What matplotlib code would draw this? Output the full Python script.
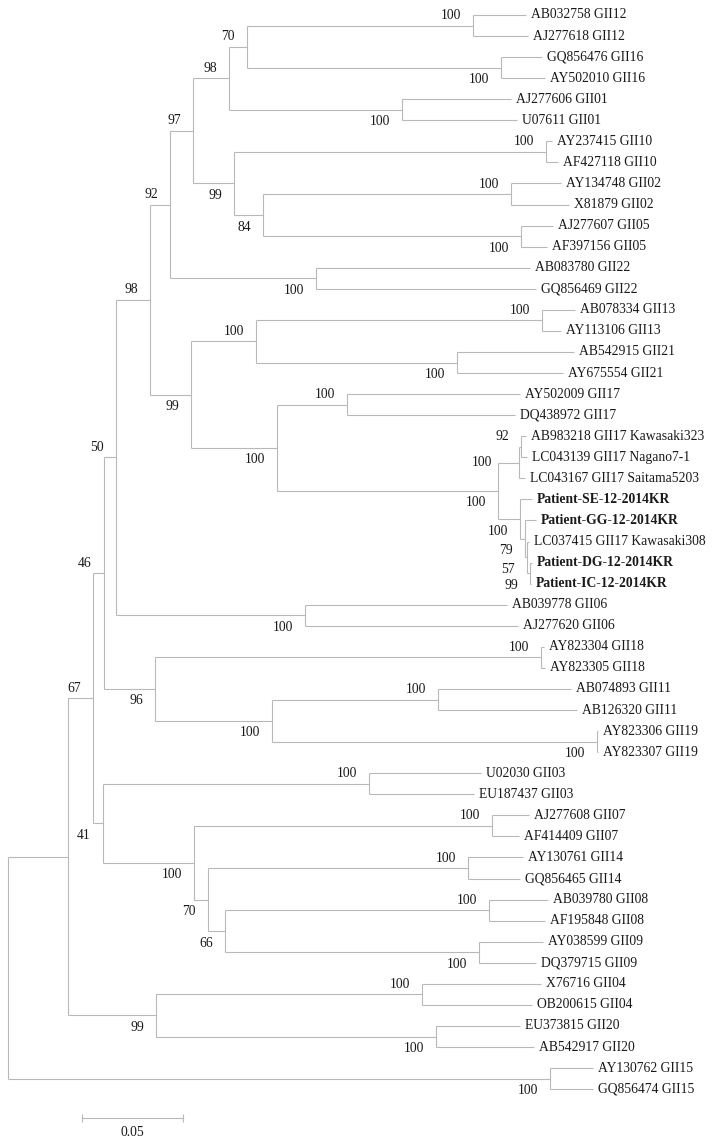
import matplotlib.pyplot as plt

plt.rcParams['font.family'] = ['Liberation Serif', 'DejaVu Serif']

# leaves, top to bottom
leaf_names = [
    'AB032758 GII12', 'AJ277618 GII12', 'GQ856476 GII16', 'AY502010 GII16',
    'AJ277606 GII01', 'U07611 GII01', 'AY237415 GII10', 'AF427118 GII10',
    'AY134748 GII02', 'X81879 GII02', 'AJ277607 GII05', 'AF397156 GII05',
    'AB083780 GII22', 'GQ856469 GII22', 'AB078334 GII13', 'AY113106 GII13',
    'AB542915 GII21', 'AY675554 GII21', 'AY502009 GII17', 'DQ438972 GII17',
    'AB983218 GII17 Kawasaki323', 'LC043139 GII17 Nagano7-1',
    'LC043167 GII17 Saitama5203', 'Patient-SE-12-2014KR', 'Patient-GG-12-2014KR',
    'LC037415 GII17 Kawasaki308', 'Patient-DG-12-2014KR', 'Patient-IC-12-2014KR',
    'AB039778 GII06', 'AJ277620 GII06', 'AY823304 GII18', 'AY823305 GII18',
    'AB074893 GII11', 'AB126320 GII11', 'AY823306 GII19', 'AY823307 GII19',
    'U02030 GII03', 'EU187437 GII03', 'AJ277608 GII07', 'AF414409 GII07',
    'AY130761 GII14', 'GQ856465 GII14', 'AB039780 GII08', 'AF195848 GII08',
    'AY038599 GII09', 'DQ379715 GII09', 'X76716 GII04', 'OB200615 GII04',
    'EU373815 GII20', 'AB542917 GII20', 'AY130762 GII15', 'GQ856474 GII15',
]
# distance from root (substitutions/site)
leaf_depth = [
    0.2564, 0.2574, 0.2644, 0.2658, 0.2490, 0.2520, 0.2693, 0.2723,
    0.2738, 0.2777, 0.2698, 0.2668, 0.2584, 0.2614, 0.2807, 0.2738,
    0.2802, 0.2748, 0.2535, 0.2510, 0.2564, 0.2569, 0.2559, 0.2594,
    0.2614, 0.2579, 0.2594, 0.2589, 0.2470, 0.2525, 0.2653, 0.2658,
    0.2787, 0.2817, 0.2921, 0.2921, 0.2342, 0.2307, 0.2579, 0.2530,
    0.2550, 0.2535, 0.2673, 0.2658, 0.2649, 0.2614, 0.2639, 0.2594,
    0.2535, 0.2604, 0.2896, 0.2896,
]

# internal nodes: children (int = leaf index, str = node id), depth, bootstrap
node_ids = ['c12', 'c16', 'n70', 'c01', 'n98a', 'c10', 'c02', 'c05', 'n84',
            'n99a', 'n97', 'c22', 'n92', 'c13', 'c21', 'n100a', 'c17a',
            'n92b', 'n100b', 'n99c', 'n57', 'n79', 'n100c', 'n100d', 'n100e',
            'n99b', 'n98b', 'c06', 'n50', 'c18', 'c11', 'c19', 'n100f', 'n96',
            'n46', 'c03', 'c07', 'c14', 'c08', 'c09', 'n66', 'n70b', 'n100g',
            'n41', 'n67', 'c04', 'c20', 'n99d', 'nA', 'c15', 'root']
node_kids = [(0, 1), (2, 3), ('c12', 'c16'), (4, 5), ('n70', 'c01'),
             (6, 7), (8, 9), (10, 11), ('c02', 'c05'), ('c10', 'n84'),
             ('n98a', 'n99a'), (12, 13), ('n97', 'c22'), (14, 15), (16, 17),
             ('c13', 'c21'), (18, 19), (20, 21), ('n92b', 22), (26, 27),
             (25, 'n99c'), (24, 'n57'), (23, 'n79'), ('n100b', 'n100c'),
             ('c17a', 'n100d'), ('n100a', 'n100e'), ('n92', 'n99b'), (28, 29),
             ('n98b', 'c06'), (30, 31), (32, 33), (34, 35), ('c11', 'c19'),
             ('c18', 'n100f'), ('n50', 'n96'), (36, 37), (38, 39), (40, 41),
             (42, 43), (44, 45), ('c08', 'c09'), ('c14', 'n66'),
             ('c07', 'n70b'), ('c03', 'n100g'), ('n46', 'n41'), (46, 47),
             (48, 49), ('c04', 'c20'), ('n67', 'n99d'), (50, 51),
             ('nA', 'c15')]
node_depth = [0.2302, 0.2441, 0.1183, 0.1950, 0.1094, 0.2663, 0.2490, 0.2540,
              0.1262, 0.1119, 0.0916, 0.1525, 0.0802, 0.2644, 0.2223, 0.1228,
              0.1678, 0.2542, 0.2532, 0.2584, 0.2569, 0.2559, 0.2535, 0.2426,
              0.1332, 0.0906, 0.0703, 0.1470, 0.0535, 0.2639, 0.2129, 0.2916,
              0.1307, 0.0728, 0.0475, 0.1787, 0.2396, 0.2277, 0.2381, 0.2332,
              0.1074, 0.0990, 0.0921, 0.0470, 0.0421, 0.2050, 0.2119, 0.0733,
              0.0297, 0.2683, 0.0]
node_support = [100, 100, 70, 100, 98, 100, 100, 100, 84, 99, 97, 100, 92,
                100, 100, 100, 100, 92, 100, 99, 57, 79, 100, 100, 100, 99,
                98, 100, 50, 100, 100, 100, 100, 96, 46, 100, 100, 100, 100,
                100, 66, 70, 100, 41, 67, 100, 100, 99, None, 100, None]

scale_len = 0.05

line_col = '#b8b8b8'
txt_col = '#1a1a1a'
fs = 9.8

kids = dict(zip(node_ids, node_kids))
depth = dict(zip(node_ids, node_depth))
support = dict(zip(node_ids, node_support))

ypos = {}


def get_y(k):
    if isinstance(k, int):
        return k
    if k not in ypos:
        a, b = kids[k]
        ypos[k] = (get_y(a) + get_y(b)) / 2.0
    return ypos[k]


def get_x(k):
    return leaf_depth[k] if isinstance(k, int) else depth[k]


is_lower = {}
for nid in node_ids:
    a, b = kids[nid]
    is_lower[a] = False
    is_lower[b] = True

fig = plt.figure(figsize=(7.15, 11.45), dpi=100)
ax = fig.add_axes([0, 0, 1, 1])
ax.set_xlim(-0.00396, 0.35)
ax.set_ylim(53.65, -0.712)
ax.axis('off')

for nid in node_ids:
    a, b = kids[nid]
    x = depth[nid]
    ax.plot([x, x], [get_y(a), get_y(b)], color=line_col, lw=0.8,
            solid_capstyle='butt')
    for k in (a, b):
        ax.plot([x, get_x(k)], [get_y(k), get_y(k)], color=line_col, lw=0.8,
                solid_capstyle='butt')

# bootstrap labels, MEGA style
label_nudge = {'n100b': (-15, -10)}
for nid in node_ids:
    s = support[nid]
    if s is None:
        continue
    dy = -12 if is_lower.get(nid, False) else 10
    dx = -12
    if nid in label_nudge:
        dx += label_nudge[nid][0]
        dy += label_nudge[nid][1]
    ax.annotate(str(s), (depth[nid], get_y(nid)), xytext=(dx, dy),
                textcoords='offset pixels', ha='right', va='center',
                fontsize=fs, color=txt_col)

for i, name in enumerate(leaf_names):
    bold = name.startswith('Patient')
    ax.annotate(name, (leaf_depth[i], i), xytext=(5, 0),
                textcoords='offset pixels', ha='left', va='center',
                fontsize=fs, color=txt_col,
                fontweight='bold' if bold else 'normal')

# scale bar
sb_x = 0.0366
sb_y = len(leaf_names) - 1 + 1.37
ax.plot([sb_x, sb_x + scale_len], [sb_y, sb_y], color=line_col, lw=0.8,
        marker='|', markersize=6, markeredgewidth=0.8)
ax.annotate(f'{scale_len:.2f}', (sb_x + scale_len / 2, sb_y), xytext=(0, -14),
            textcoords='offset pixels', ha='center', va='center',
            fontsize=fs, color=txt_col)

fig.savefig('out.png', dpi=100)
